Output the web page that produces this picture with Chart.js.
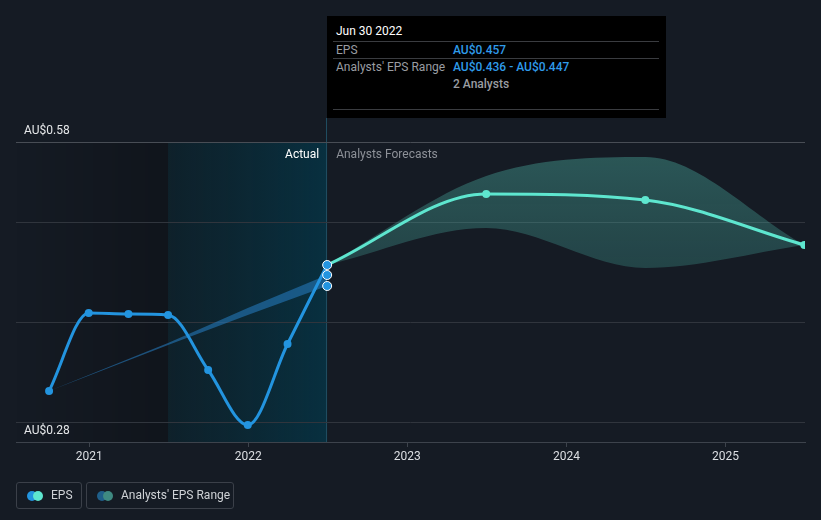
<!DOCTYPE html>
<html>
<head>
<meta charset="utf-8">
<script src="https://cdn.jsdelivr.net/npm/chart.js@4.4.1/dist/chart.umd.min.js"></script>
<style>
  html, body { margin: 0; padding: 0; background: #151b24; }
  body { width: 821px; height: 520px; position: relative; overflow: hidden; font-family: Roboto, "Noto Sans", sans-serif; }
  #c { position: absolute; left: 0; top: 0; }
  .tip { position: absolute; left: 327px; top: 16px; width: 339px; height: 102px; background: #000; font-size: 12px; }
  .tip .t { position: absolute; left: 9px; top: 8px; color: #fff; }
  .tip .hr { position: absolute; left: 6px; width: 326px; height: 1px; background: #3a3c40; }
  .tip .l { position: absolute; left: 9px; color: #9a9da2; }
  .tip .v { position: absolute; left: 126px; color: #2f9bea; font-weight: 500; }
  .tip .g { position: absolute; left: 126px; color: #9a9da2; font-weight: 500; }
  .legend { position: absolute; top: 482px; height: 25px; border: 1px solid #3b4049; border-radius: 3px; color: #cfd2d6; font-size: 12px; }
  .legend .d { position: absolute; top: 8px; width: 10px; height: 10px; border-radius: 50%; }
  .legend span.txt { position: absolute; top: 5px; white-space: nowrap; }
</style>
</head>
<body>
<canvas id="c" width="821" height="520"></canvas>

<div class="tip">
  <div class="t">Jun 30 2022</div>
  <div class="hr" style="top:25px"></div>
  <div class="l" style="top:27px">EPS</div>
  <div class="v" style="top:27px">AU$0.457</div>
  <div class="hr" style="top:42px"></div>
  <div class="l" style="top:44px">Analysts' EPS Range</div>
  <div class="v" style="top:44px">AU$0.436 - AU$0.447</div>
  <div class="g" style="top:61px">2 Analysts</div>
  <div class="hr" style="top:93px"></div>
</div>

<div class="legend" style="left:16px;width:64px">
  <div class="d" style="left:10px;background:#2394df"></div>
  <div class="d" style="left:16px;background:#5ee6cf"></div>
  <span class="txt" style="left:34px">EPS</span>
</div>
<div class="legend" style="left:86px;width:146px">
  <div class="d" style="left:10px;background:#1f5f8a"></div>
  <div class="d" style="left:16px;background:#3f8a82"></div>
  <span class="txt" style="left:34px">Analysts' EPS Range</span>
</div>

<script>
// ---- data (decimal years at quarter ends / AU$ EPS) ----
const epsX = [2020.748, 2020.997, 2021.247, 2021.496, 2021.748, 2021.997, 2022.247, 2022.496];
const epsY = [0.331, 0.409, 0.408, 0.407, 0.352, 0.297, 0.378, 0.457];

const pastRangeX = [2020.748, 2021.496, 2021.997, 2022.496];
const pastLow    = [0.331, 0.377, 0.407, 0.436];
const pastHigh   = [0.331, 0.379, 0.414, 0.447];

const fcX    = [2022.496, 2023.496, 2024.496, 2025.496];
const fcEps  = [0.457, 0.528, 0.522, 0.477];
const fcLow  = [0.457, 0.494, 0.454, 0.477];
const fcHigh = [0.457, 0.546, 0.565, 0.477];

const xTicks = [2021, 2022, 2023, 2024, 2025];
const yTicks = [0.28, 0.30, 0.40, 0.50, 0.58];
const yLabelTicks = [0.28, 0.58];

const xMin = 2020.54, xMax = 2025.5;
const actualStart = 2021.496, actualEnd = 2022.496;

const pts = (xs, ys) => xs.map((x, i) => ({ x, y: ys[i] }));
const last = a => a[a.length - 1];

const regions = {
  id: 'regions',
  beforeDraw(chart) {
    const { ctx, chartArea: a, scales: { x } } = chart;
    const x1 = x.getPixelForValue(actualStart), x2 = x.getPixelForValue(actualEnd);
    ctx.save();
    let g = ctx.createLinearGradient(a.left, 0, x1, 0);
    g.addColorStop(0, 'rgba(0,0,0,0.0)');
    g.addColorStop(1, 'rgba(0,0,0,0.22)');
    ctx.fillStyle = g;
    ctx.fillRect(a.left, a.top, x1 - a.left, a.bottom - a.top);
    g = ctx.createLinearGradient(x1, 0, x2, 0);
    g.addColorStop(0, 'rgba(12,36,46,0.7)');
    g.addColorStop(1, 'rgba(8,48,64,1)');
    ctx.fillStyle = g;
    ctx.fillRect(x1, a.top, x2 - x1, a.bottom - a.top);
    ctx.strokeStyle = '#1f4c60';
    ctx.lineWidth = 1;
    ctx.beginPath();
    ctx.moveTo(Math.floor(x2) - 0.5, 118);
    ctx.lineTo(Math.floor(x2) - 0.5, a.bottom);
    ctx.stroke();
    ctx.font = '12px Roboto, "Noto Sans", sans-serif';
    ctx.textBaseline = 'middle';
    ctx.textAlign = 'right';
    ctx.fillStyle = '#ffffff';
    ctx.fillText('Actual', x2 - 8, a.top + 13);
    ctx.textAlign = 'left';
    ctx.fillStyle = '#8d9198';
    ctx.fillText('Analysts Forecasts', x2 + 9, a.top + 13);
    ctx.restore();
  }
};

const ctx = document.getElementById('c').getContext('2d');
new Chart(ctx, {
  type: 'line',
  data: {
    datasets: [
      { // 0 past low
        data: pts(pastRangeX, pastLow), borderWidth: 0, pointRadius: 0, fill: false,
        borderColor: 'rgba(0,0,0,0)', tension: 0, order: 5
      },
      { // 1 past high
        data: pts(pastRangeX, pastHigh), borderWidth: 0, pointRadius: 0, fill: '-1',
        backgroundColor: 'rgba(36,120,185,0.6)', borderColor: 'rgba(36,120,185,0.35)', tension: 0, order: 5
      },
      { // 2 fc low
        data: pts(fcX, fcLow), borderWidth: 0, pointRadius: 0, fill: false,
        borderColor: 'rgba(0,0,0,0)', cubicInterpolationMode: 'monotone', order: 4
      },
      { // 3 fc high
        data: pts(fcX, fcHigh), borderWidth: 0, pointRadius: 0, fill: '-1',
        borderColor: 'rgba(0,0,0,0)', cubicInterpolationMode: 'monotone', order: 4,
        backgroundColor(c) {
          const a = c.chart.chartArea;
          if (!a) return 'rgba(80,180,165,0.33)';
          const g = c.chart.ctx.createLinearGradient(0, a.top, 0, a.bottom);
          g.addColorStop(0, 'rgba(82,190,175,0.38)');
          g.addColorStop(0.5, 'rgba(70,165,155,0.27)');
          g.addColorStop(1, 'rgba(60,140,135,0.15)');
          return g;
        }
      },
      { // 4 forecast line
        data: pts(fcX, fcEps), borderColor: '#5ee6cf', borderWidth: 3, fill: false,
        cubicInterpolationMode: 'monotone', backgroundColor: '#5ee6cf',
        pointRadius: c => c.dataIndex === 0 ? 0 : 4, pointBorderWidth: 0, order: 2
      },
      { // 5 EPS actual
        data: pts(epsX, epsY), borderColor: '#2394df', borderWidth: 3, fill: false,
        cubicInterpolationMode: 'monotone', backgroundColor: '#2394df',
        pointRadius: 4, pointBorderWidth: 0, order: 1
      },
      { // 6 hover markers at Jun 30 2022
        type: 'scatter',
        data: [{ x: last(epsX), y: last(epsY) }, { x: last(pastRangeX), y: last(pastHigh) }, { x: last(pastRangeX), y: last(pastLow) }],
        backgroundColor: '#2394df', borderColor: '#ffffff', borderWidth: 1, pointRadius: 4.5, order: 0
      }
    ]
  },
  options: {
    responsive: false,
    animation: false,
    events: [],
    layout: { padding: { left: 16, right: 16, top: 142, bottom: 53 } },
    plugins: { legend: { display: false }, tooltip: { enabled: false } },
    scales: {
      x: {
        type: 'linear', min: xMin, max: xMax,
        afterBuildTicks: s => { s.ticks = xTicks.map(v => ({ value: v })); },
        afterFit: s => { s.height = 25; },
        ticks: { color: '#dcdfe3', font: { family: 'Roboto', size: 12 }, padding: 3, callback: v => String(v), maxRotation: 0, autoSkip: false },
        grid: { drawOnChartArea: false, drawTicks: true, tickLength: 5, color: '#3d434c' },
        border: { color: '#3d434c', width: 1 }
      },
      y: {
        type: 'linear', min: 0.28, max: 0.58,
        afterBuildTicks: s => { s.ticks = yTicks.map(v => ({ value: v })); },
        afterFit: s => { s.width = 0; },
        ticks: {
          mirror: true, padding: 8, labelOffset: -11, color: '#e6e8ea',
          font: { family: 'Roboto', size: 12 },
          callback: v => yLabelTicks.some(t => Math.abs(t - v) < 1e-9) ? 'AU$' + v.toFixed(2) : ''
        },
        grid: {
          drawTicks: false,
          color: c => (c.tick && Math.abs(c.tick.value - 0.58) < 1e-9) ? '#484d55' : '#30353d'
        },
        border: { display: false }
      }
    }
  },
  plugins: [regions]
});
</script>
</body>
</html>
